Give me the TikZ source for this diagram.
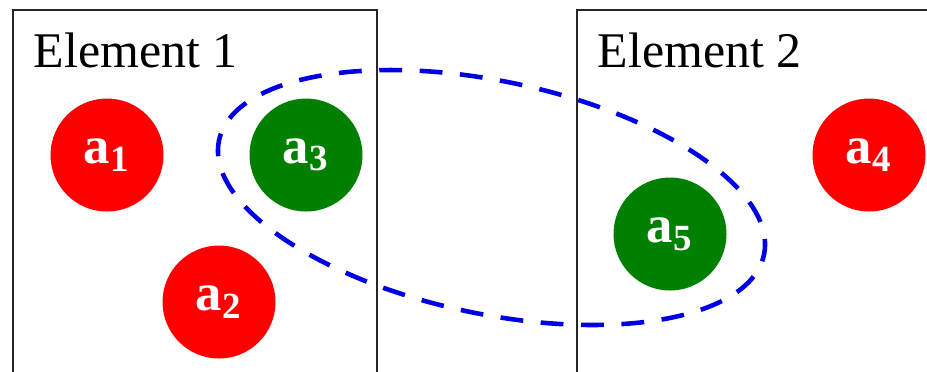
\documentclass[tikz,border=0pt]{standalone}
\usepackage{fontspec}
\setmainfont{Liberation Serif}

\begin{document}
\begin{tikzpicture}[
	ball/.style={circle, minimum size=1.13cm, inner sep=0pt, text=white, font=\fontsize{15}{18}\selectfont\bfseries},
	redball/.style={ball, fill=red},
	greenball/.style={ball, fill=green!50!black},
	elembox/.style={draw=black!85, line width=0.8pt},
	]
	\clip (0, 0) rectangle (9.27, 3.71);
	\fill[white] (0, 0) rectangle (9.27, 3.71);
	% the two elements
	\draw[elembox] (0.13, -0.5) |- (3.77, 3.61) -- (3.77, -0.5);
	\draw[elembox] (5.77, -0.5) |- (9.6, 3.61);
	\node[anchor=base west, inner sep=0pt, font=\fontsize{14.2}{17}\selectfont] (lab1) at (0.33, 3.04) {Element 1};
	\node[anchor=base west, inner sep=0pt, font=\fontsize{14.2}{17}\selectfont] (lab2) at (5.97, 3.04) {Element 2};
	% attributes
	\node[redball] (a1) at (1.07, 2.16) {a\textsubscript{1}};
	\node[redball] (a2) at (2.19, 0.69) {a\textsubscript{2}};
	\node[greenball] (a3) at (3.06, 2.16) {a\textsubscript{3}};
	\node[redball] (a4) at (8.69, 2.16) {a\textsubscript{4}};
	\node[greenball] (a5) at (6.70, 1.37) {a\textsubscript{5}};
	% group linking a3 and a5
	\draw[blue!90!black, line width=1.3pt, dash pattern=on 6.5pt off 5pt, dash phase=2pt,
		shift={(4.915, 1.735)}, rotate=-11.85]
		(0, 0) ellipse (2.784 and 1.164);
\end{tikzpicture}
\end{document}
